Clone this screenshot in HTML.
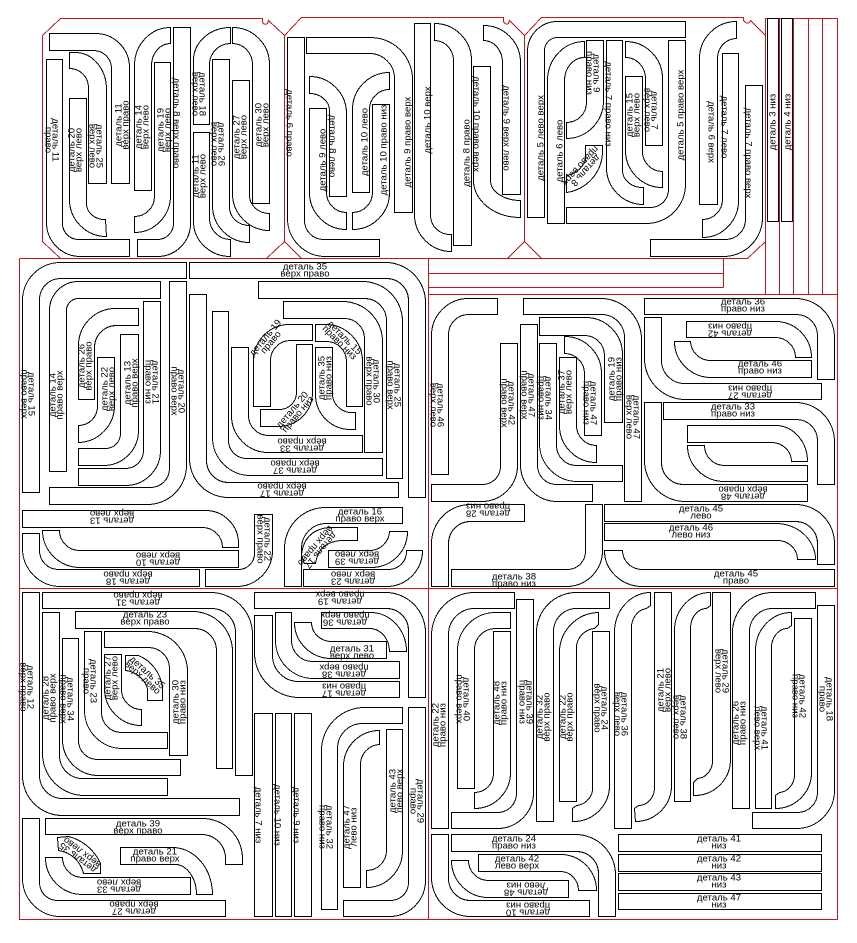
<!DOCTYPE html>
<html><head><meta charset="utf-8"><style>
html,body{margin:0;padding:0;background:#fff}
svg{display:block}
text{font-family:"Liberation Sans","DejaVu Sans",sans-serif;font-size:9.6px;text-anchor:middle;fill:#000}
</style></head><body>
<svg width="857" height="943" viewBox="0 0 857 943" xmlns="http://www.w3.org/2000/svg">
<rect width="857" height="943" fill="#fff"/>
<g transform="translate(.5,.5)" fill="none" shape-rendering="crispEdges">
<g stroke="#c8141f" stroke-width="1">
<path d="M42,35 L60,18 H262 V22 Q264,25 267,23 L268,20 L284,35 L301,17 H503 V21 Q505,25 508,23 L509,20 L524,35 L541,17 H743 V20 Q746,24 749,22 L750,20 L765,35"/>
<path d="M42,35 V241 L60,258 M284,35 V241 L266,258 M284,241 L301,258 M524,35 V241 L507,258 M524,241 L541,258 M765,18 V294 M765,241 L747,258"/>
<path d="M19,258 H747 M723,258 V287 M428,273 H723 M428,287 H723 M765,18 H837 M779,18 V294 M793,18 V294 M808,18 V294 M822,18 V294 M837,18 V919 M428,258 V919 M428,294 H837 M19,258 V919 H837 M19,588 H837"/>
</g>
<g stroke="#000" stroke-width="1">
<path d="M46,59 V222 A34,34 0 0 0 80,256 H129 V239 H78 A16,16 0 0 1 62,223 V59Z"/>
<path d="M69,98 H86 V203 A18,16 0 0 0 105,219 L106,236 A37,37 0 0 1 69,199 Z"/>
<path d="M69,52 H75 A31,37 0 0 1 106,89 V183 H88 V87 A19,19 0 0 0 69,68 Z"/>
<path d="M49,33 H95 A34,34 0 0 1 129,67 V183 H111 V68 A18,18 0 0 0 93,50 H49 Z"/>
<path d="M134,190 V65 A36,38 0 0 1 170,27 V43 A19,22 0 0 0 151,65 V190Z"/>
<path d="M154,62 H170 V195 A36,37 0 0 1 134,232 V216 A20,20 0 0 0 154,196 Z"/>
<path d="M173,27 H190 V223 A33,33 0 0 1 157,256 H137 V239 H157 A16,16 0 0 0 173,223Z"/>
<path d="M193,124 V60 A37,33 0 0 1 230,27 V43 A21,21 0 0 0 209,64 V124Z"/>
<path d="M193,132 H209 V218 A21,21 0 0 0 230,239 V256 A37,35 0 0 1 193,221 Z"/>
<path d="M212,59 H229 V207 A20,18 0 0 0 249,225 V242 A37,37 0 0 1 212,205 Z"/>
<path d="M232,80 H249 V195 A20,18 0 0 0 269,213 V230 A37,37 0 0 1 232,193Z"/>
<path d="M232,27 A37,37 0 0 1 269,64 V203 H252 V64 A20,21 0 0 0 232,43 Z"/>
<path d="M287,37 H304 V220 A19,19 0 0 0 323,239 H379 V256 H325 A38,38 0 0 1 287,218 Z"/>
<path d="M306,37 H370 A42,42 0 0 1 412,79 V212 H394 V78 A25,25 0 0 0 369,53 H306 Z"/>
<path d="M309,76 A37,37 0 0 1 346,113 V196 H329 V110 A20,17 0 0 0 309,93 Z"/>
<path d="M389,72 V89 A20,20 0 0 0 369,109 V192 H352 V109 A37,37 0 0 1 389,72Z"/>
<path d="M309,108 H326 V192 A20,20 0 0 0 346,212 V229 A37,37 0 0 1 309,192Z"/>
<path d="M372,104 H389 V192 A37,37 0 0 1 352,229 V212 A20,20 0 0 0 372,192Z"/>
<path d="M414,23 H430 V215 A20,19 0 0 0 451,234 V251 A37,37 0 0 1 414,214Z"/>
<path d="M434,23 A37,37 0 0 1 471,60 V245 H453 V60 A19,20 0 0 0 434,40 Z"/>
<path d="M473,66 H490 V180 A30,20 0 0 0 520,200 V217 A47,37 0 0 1 473,180 Z"/>
<path d="M483,25 A37,37 0 0 1 520,62 V194 H502 V62 A19,22 0 0 0 483,40 Z"/>
<path d="M527,217 V51 A30,30 0 0 1 557,21 H685 V37 H557 A13,13 0 0 0 544,50 V217Z"/>
<path d="M547,223 V80 A37,39 0 0 1 584,41 V57 A20,23 0 0 0 564,80 V223Z"/>
<path d="M586,40 H603 V100 A37,38 0 0 1 566,138 V122 A20,20 0 0 0 586,102Z"/>
<path d="M585,145 H602 V152 A42,42 0 0 1 566,192 V175 A26,26 0 0 0 585,160 Z"/>
<path d="M606,40 H622 V170 A20,17 0 0 0 643,187 V204 A37,37 0 0 1 606,167Z"/>
<path d="M625,76 H642 V150 A20,20 0 0 0 662,171 V187 A37,37 0 0 1 625,150 Z"/>
<path d="M625,41 A37,37 0 0 1 662,78 V145 H645 V78 A20,21 0 0 0 625,57 Z"/>
<path d="M668,40 H685 V184 A39,39 0 0 1 646,223 H566 V207 H650 A18,18 0 0 0 668,189 Z"/>
<path d="M699,204 V58 A37,37 0 0 1 736,21 V38 A19,20 0 0 0 717,58 V204Z"/>
<path d="M722,53 H738 V200 A36,37 0 0 1 702,237 V219 A20,20 0 0 0 722,199 Z"/>
<path d="M745,85 H762 V217 A39,39 0 0 1 723,256 H650 V239 H725 A20,20 0 0 0 745,219 Z"/>
<path d="M767,18 H778 V221 H767Z M781,18 H792 V221 H781Z"/>

<path d="M22,492 V300 A38,38 0 0 1 60,262 H186 V278 H60 A21,21 0 0 0 39,299 V492Z"/>
<path d="M49,471 V310 A29,29 0 0 1 78,281 H160 V298 H78 A12,12 0 0 0 66,310 V471Z"/>
<path d="M78,399 V345 A37,37 0 0 1 115,308 H138 V325 H116 A22,22 0 0 0 94,347 V399Z"/>
<path d="M97,357 H114 V405 A37,37 0 0 1 78,442 V425 A19,19 0 0 0 97,406Z"/>
<path d="M120,334 H138 V430 A35,35 0 0 1 103,465 H78 V448 H105 A15,15 0 0 0 120,433Z"/>
<path d="M143,301 H160 V450 A35,35 0 0 1 125,485 H78 V468 H125 A18,18 0 0 0 143,450Z"/>
<path d="M169,281 H186 V465 A39,39 0 0 1 147,504 H49 V487 H150 A19,19 0 0 0 169,468Z"/>
<path d="M189,262 H385 A40,40 0 0 1 425,302 V497 H408 V300 A22,22 0 0 0 386,278 H189Z"/>
<path d="M258,281 H362 A40,40 0 0 1 402,321 V478 H386 V320 A22,22 0 0 0 364,298 H258Z"/>
<path d="M283,301 H342 A40,40 0 0 1 382,341 V452 H364 V338 A20,20 0 0 0 344,318 H283 Z"/>
<path d="M189,294 H206 V460 A22,22 0 0 0 228,482 H398 V497 H228 A39,39 0 0 1 189,458 Z"/>
<path d="M212,311 H228 V440 A18,18 0 0 0 246,458 H382 V475 H250 A38,38 0 0 1 212,437Z"/>
<path d="M231,347 H248 V415 A20,20 0 0 0 268,435 H362 V452 H268 A37,37 0 0 1 231,415Z"/>
<path d="M253,406 V360 A36,36 0 0 1 289,324 H312 V340 H290 A20,20 0 0 0 270,360 V406Z"/>
<path d="M296,344 H312 V392 A34,34 0 0 1 278,426 H260 V409 H279 A17,17 0 0 0 296,392Z"/>
<path d="M315,324 H325 A37,37 0 0 1 362,361 V406 H346 V361 A20,20 0 0 0 326,341 H315 Z"/>
<path d="M315,347 H332 V393 A20,19 0 0 0 355,412 V429 H350 A35,35 0 0 1 315,394Z"/>
<path d="M22,510 H205 A33,33 0 0 1 238,543 V547 H222 A20,20 0 0 0 202,527 H22 Z"/>
<path d="M42,530 H59 A20,20 0 0 0 79,550 H238 V567 H80 A38,37 0 0 1 42,530 Z"/>
<path d="M22,533 H39 V550 A19,19 0 0 0 58,569 H199 V586 H60 A38,38 0 0 1 22,548Z"/>
<path d="M254,514 H272 V550 A36,36 0 0 1 236,586 H205 V569 H238 A16,16 0 0 0 254,553Z"/>
<path d="M402,507 H325 A41,41 0 0 0 284,548 V586 H301 V548 A25,25 0 0 1 326,523 H402Z"/>
<path d="M357,527 H328 Q303,530 301,555 L304,563 H315 Q318,542 340,540 H357Z"/>
<path d="M328,550 H370 A20,20 0 0 0 389,531 H407 A36,36 0 0 1 372,567 H328Z"/>
<path d="M303,569 H388 A18,18 0 0 0 406,550 H422 A36,36 0 0 1 386,586 H303Z"/>

<path d="M431,474 V335 A37,37 0 0 1 468,298 H497 V314 H468 A20,20 0 0 0 448,334 V474Z"/>
<path d="M500,343 H517 V465 A36,36 0 0 1 481,501 H431 V484 H482 A18,18 0 0 0 500,466Z"/>
<path d="M520,324 H537 V465 A19,19 0 0 0 556,484 H592 V501 H557 A37,37 0 0 1 520,464Z"/>
<path d="M539,343 H556 V445 A20,20 0 0 0 576,465 H622 V481 H577 A38,38 0 0 1 539,443Z"/>
<path d="M559,357 H576 V425 A20,20 0 0 0 596,445 V462 A37,37 0 0 1 559,425Z"/>
<path d="M564,336 A37,37 0 0 1 601,373 V435 H584 V373 A20,20 0 0 0 564,353Z"/>
<path d="M539,317 H585 A37,37 0 0 1 622,354 V422 H604 V355 A20,20 0 0 0 584,335 H539Z"/>
<path d="M523,298 H600 A41,41 0 0 1 641,339 V501 H624 V337 A23,23 0 0 0 601,314 H523Z"/>
<path d="M644,298 H795 A39,39 0 0 1 834,337 V379 H817 V335 A21,21 0 0 0 796,314 H644Z"/>
<path d="M686,321 H775 A36,36 0 0 1 811,357 H795 A20,20 0 0 0 775,337 H686Z"/>
<path d="M674,341 H690 A20,20 0 0 0 710,360 H811 V377 H711 A37,36 0 0 1 674,341Z"/>
<path d="M644,317 H661 V360 A23,23 0 0 0 684,383 H821 V399 H685 A41,41 0 0 1 644,358Z"/>
<path d="M663,402 H795 A39,39 0 0 1 834,441 V484 H817 V440 A21,21 0 0 0 796,419 H663Z"/>
<path d="M687,425 H775 A32,36 0 0 1 807,461 H791 A20,19 0 0 0 771,442 H687Z"/>
<path d="M687,445 H704 A20,20 0 0 0 724,465 H807 V481 H724 A37,36 0 0 1 687,445Z"/>
<path d="M644,402 H661 V462 A22,22 0 0 0 683,484 H807 V501 H685 A41,41 0 0 1 644,460Z"/>
<path d="M524,504 H470 A39,39 0 0 0 431,543 V586 H448 V543 A22,22 0 0 1 470,521 H524Z"/>
<path d="M585,504 H602 V550 A36,36 0 0 1 566,586 H451 V569 H567 A18,18 0 0 0 585,551Z"/>
<path d="M604,504 H795 A39,39 0 0 1 834,543 V564 H817 V543 A22,22 0 0 0 795,521 H604Z"/>
<path d="M604,523 H775 A40,36 0 0 1 815,559 H797 A20,19 0 0 0 777,540 H604Z"/>
<path d="M604,550 H622 A20,19 0 0 0 642,569 H834 V586 H642 A38,36 0 0 1 604,550Z"/>

<path d="M22,592 H39 V775 A23,23 0 0 0 62,798 H239 V815 H62 A40,40 0 0 1 22,775Z"/>
<path d="M42,592 H210 A42,42 0 0 1 252,634 V775 H235 V632 A24,24 0 0 0 211,608 H42Z"/>
<path d="M42,612 H59 V755 A23,23 0 0 0 82,778 H167 V795 H84 A42,42 0 0 1 42,753Z"/>
<path d="M75,611 H192 A40,40 0 0 1 232,651 V768 H216 V650 A22,22 0 0 0 194,628 H75Z"/>
<path d="M62,638 H78 V740 A19,19 0 0 0 97,759 H180 V775 H98 A36,36 0 0 1 62,739 Z"/>
<path d="M84,631 H101 V712 A20,20 0 0 0 121,732 H167 V748 H122 A38,38 0 0 1 84,710Z"/>
<path d="M104,631 H147 A40,40 0 0 1 187,671 V755 H169 V668 A21,21 0 0 0 148,647 H104Z"/>
<path d="M104,654 H121 V690 A20,20 0 0 0 141,709 V725 A37,37 0 0 1 104,688Z"/>
<path d="M125,655 H138 A38,40 0 0 1 162,687 V700 H147 V688 A26,26 0 0 0 125,670Z"/>
<path d="M254,592 H385 A40,40 0 0 1 425,632 V697 H408 V630 A22,22 0 0 0 386,608 H254Z"/>
<path d="M321,612 H370 A36,39 0 0 1 406,651 H389 A20,23 0 0 0 369,628 H321Z"/>
<path d="M294,622 H311 A20,19 0 0 0 331,641 H386 V658 H331 A37,36 0 0 1 294,622Z"/>
<path d="M275,612 H291 V640 A21,21 0 0 0 312,661 H399 V678 H313 A38,38 0 0 1 275,640 Z"/>
<path d="M254,615 H272 V655 A26,26 0 0 0 298,681 H399 V697 H299 A45,45 0 0 1 254,652Z"/>
<path d="M254,713 H272 V916 H254Z M275,713 H291 V916 H275Z M294,713 H311 V916 H294Z"/>
<path d="M321,909 V750 A43,43 0 0 1 364,707 H402 V723 H362 A25,25 0 0 0 337,748 V909Z"/>
<path d="M343,887 V765 A36,36 0 0 1 379,730 V744 A20,20 0 0 0 360,765 V887Z"/>
<path d="M386,729 H402 V850 A36,37 0 0 1 366,887 V870 A20,20 0 0 0 386,850 Z"/>
<path d="M408,707 H425 V880 A36,36 0 0 1 389,916 H343 V900 H390 A18,18 0 0 0 408,882Z"/>
<path d="M45,818 H202 A40,40 0 0 1 242,858 V864 H225 V858 A24,24 0 0 0 201,834 H45Z"/>
<path d="M22,818 H39 V882 A18,18 0 0 0 57,900 H225 V916 H60 A38,38 0 0 1 22,878Z"/>
<path d="M120,847 H172 A40,47 0 0 1 212,894 H196 A22,30 0 0 0 172,864 H120Z"/>
<path d="M45,857 H62 A20,20 0 0 0 82,877 H190 V894 H82 A37,37 0 0 1 45,857Z"/>
<path d="M57,837 L68,836 A48,48 0 0 1 100,863 V873 H83 A30,30 0 0 0 58,850Z"/>

<path d="M431,828 V635 A43,43 0 0 1 474,592 H514 V608 H474 A26,26 0 0 0 448,634 V828Z"/>
<path d="M457,788 V650 A38,38 0 0 1 495,612 H510 V628 H495 A21,21 0 0 0 474,649 V788Z"/>
<path d="M493,631 H510 V772 A36,36 0 0 1 474,808 V792 A19,19 0 0 0 493,773 Z"/>
<path d="M516,599 H533 V792 A36,36 0 0 1 497,828 H451 V812 H497 A19,19 0 0 0 516,793Z"/>
<path d="M536,821 V632 A40,40 0 0 1 576,592 H609 V608 H576 A23,23 0 0 0 553,631 V821Z"/>
<path d="M559,801 V652 A40,40 0 0 1 598,612 V624 L594,628 A20,20 0 0 0 576,650 V801Z"/>
<path d="M592,631 H609 V785 A36,36 0 0 1 573,821 H572 V808 L576,805 A18,18 0 0 0 592,790Z"/>
<path d="M614,828 V632 A36,40 0 0 1 650,592 V605 L646,608 A17,20 0 0 0 631,625 V828Z"/>
<path d="M654,592 H671 V785 A36,36 0 0 1 635,821 L634,808 L638,805 A16,18 0 0 0 654,788Z"/>
<path d="M674,801 V630 A36,38 0 0 1 710,592 V605 L706,608 A16,20 0 0 0 690,627 V801Z"/>
<path d="M712,592 H730 V760 A36,36 0 0 1 694,795 H693 V782 L697,778 A16,18 0 0 0 712,762Z"/>
<path d="M732,808 V632 A40,40 0 0 1 772,592 H815 V608 H772 A23,23 0 0 0 749,631 V808Z"/>
<path d="M755,808 V650 A36,38 0 0 1 791,612 V625 L787,628 A16,20 0 0 0 771,645 V808Z"/>
<path d="M794,618 H811 V772 A36,36 0 0 1 775,808 V795 L779,792 A16,18 0 0 0 794,775Z"/>
<path d="M817,605 H834 V790 A38,38 0 0 1 796,828 H752 V812 H797 A20,20 0 0 0 817,792Z"/>
<path d="M431,834 H448 V878 A22,22 0 0 0 470,900 H589 V916 H470 A39,39 0 0 1 431,877Z"/>
<path d="M451,860 H468 A20,20 0 0 0 488,880 H568 V897 H488 A37,37 0 0 1 451,860Z"/>
<path d="M478,854 H560 A36,36 0 0 1 596,890 H578 A18,19 0 0 0 560,871 H478Z"/>
<path d="M451,834 H575 A40,40 0 0 1 615,874 V916 H598 V873 A22,22 0 0 0 576,851 H451Z"/>
<path d="M618,834 H821 V851 H618Z M618,854 H821 V871 H618Z M618,873 H821 V890 H618Z M618,893 H821 V909 H618Z"/>
</g>
</g>
<g>
<text transform="translate(52,140) rotate(90)"><tspan x="0" y="-.5">деталь 11</tspan><tspan x="0" y="6.5">право</tspan></text>
<text transform="translate(75,150) rotate(-90)"><tspan x="0" y="-.5">деталь 20</tspan><tspan x="0" y="6.5">верх лево</tspan></text>
<text transform="translate(96,146) rotate(90)"><tspan x="0" y="-.5">деталь 25</tspan><tspan x="0" y="6.5">верх лево</tspan></text>
<text transform="translate(122,125) rotate(-90)"><tspan x="0" y="-.5">деталь 11</tspan><tspan x="0" y="6.5">верх право</tspan></text>
<text transform="translate(142,127) rotate(-90)"><tspan x="0" y="-.5">деталь 14</tspan><tspan x="0" y="6.5">верх лево</tspan></text>
<text transform="translate(164,130) rotate(-90)"><tspan x="0" y="-.5">деталь 19</tspan><tspan x="0" y="6.5">верх лево</tspan></text>
<text transform="translate(177,123) rotate(90)" y="3.5">деталь 8 верх право</text>
<text transform="translate(199,94) rotate(90)"><tspan x="0" y="-.5">деталь 18</tspan><tspan x="0" y="6.5">верх лево</tspan></text>
<text transform="translate(199,176) rotate(-90)"><tspan x="0" y="-.5">деталь 11</tspan><tspan x="0" y="6.5">верх лево</tspan></text>
<text transform="translate(218,144) rotate(90)"><tspan x="0" y="-.5">деталь 26</tspan><tspan x="0" y="6.5">верх лево</tspan></text>
<text transform="translate(240,137) rotate(-90)"><tspan x="0" y="-.5">деталь 27</tspan><tspan x="0" y="6.5">верх лево</tspan></text>
<text transform="translate(262,125) rotate(-90)"><tspan x="0" y="-.5">деталь 30</tspan><tspan x="0" y="6.5">верх лево</tspan></text>
<text transform="translate(290,123) rotate(90)" y="3.5">деталь 6 право</text>
<text transform="translate(322,160) rotate(-90)" y="3.5">деталь 9 лево</text>
<text transform="translate(333,146) rotate(90)" y="3.5">деталь 8 лево</text>
<text transform="translate(364,142) rotate(-90)" y="3.5">деталь 10 лево</text>
<text transform="translate(383,150) rotate(-90)" y="3.5">деталь 10 право низ</text>
<text transform="translate(407,142) rotate(-90)" y="3.5">деталь 9 право верх</text>
<text transform="translate(427,120) rotate(-90)" y="3.5">деталь 10 верх</text>
<text transform="translate(466,153) rotate(-90)" y="3.5">деталь 8 право</text>
<text transform="translate(477,124) rotate(90)" y="3.5">деталь 10 право верх</text>
<text transform="translate(507,128) rotate(90)" y="3.5">деталь 9 верх лево</text>
<text transform="translate(540,138) rotate(-90)" y="3.5">деталь 5 лево верх</text>
<text transform="translate(559,151) rotate(-90)" y="3.5">деталь 6 лево</text>
<text transform="translate(593,73) rotate(90)"><tspan x="0" y="-.5">деталь 9</tspan><tspan x="0" y="6.5">право низ</tspan></text>
<text transform="translate(583,168) rotate(132)"><tspan x="0" y="-.5">деталь 8</tspan><tspan x="0" y="6.5">право верх</tspan></text>
<text transform="translate(609,104) rotate(90)" y="3.5">деталь 7 право низ</text>
<text transform="translate(633,115) rotate(-90)"><tspan x="0" y="-.5">деталь 15</tspan><tspan x="0" y="6.5">верх лево</tspan></text>
<text transform="translate(651,110) rotate(90)"><tspan x="0" y="-.5">деталь 7</tspan><tspan x="0" y="6.5">верх лево</tspan></text>
<text transform="translate(680,115) rotate(-90)" y="3.5">деталь 5 право верх</text>
<text transform="translate(712,132) rotate(90)" y="3.5">деталь 6 верх</text>
<text transform="translate(725,127) rotate(90)" y="3.5">деталь 7 лево</text>
<text transform="translate(749,153) rotate(90)" y="3.5">деталь 7 право верх</text>
<text transform="translate(772,122) rotate(-90)" y="3.5">деталь 3 низ</text>
<text transform="translate(787,122) rotate(-90)" y="3.5">деталь 4 низ</text>

<text transform="translate(28,394) rotate(90)"><tspan x="0" y="-.5">деталь 15</tspan><tspan x="0" y="6.5">право верх</tspan></text>
<text transform="translate(56,395) rotate(-90)"><tspan x="0" y="-.5">деталь 14</tspan><tspan x="0" y="6.5">право верх</tspan></text>
<text transform="translate(85,366) rotate(-90)"><tspan x="0" y="-.5">деталь 26</tspan><tspan x="0" y="6.5">верх право</tspan></text>
<text transform="translate(108,389) rotate(-90)"><tspan x="0" y="-.5">деталь 22</tspan><tspan x="0" y="6.5">верх лево</tspan></text>
<text transform="translate(131,383) rotate(-90)"><tspan x="0" y="-.5">деталь 13</tspan><tspan x="0" y="6.5">право верх</tspan></text>
<text transform="translate(152,382) rotate(90)"><tspan x="0" y="-.5">деталь 21</tspan><tspan x="0" y="6.5">право низ</tspan></text>
<text transform="translate(178,391) rotate(90)"><tspan x="0" y="-.5">деталь 20</tspan><tspan x="0" y="6.5">право верх</tspan></text>
<text transform="translate(305,270)"><tspan x="0" y="-.5">деталь 35</tspan><tspan x="0" y="6.5">верх право</tspan></text>
<text transform="translate(394,385) rotate(90)"><tspan x="0" y="-.5">деталь 25</tspan><tspan x="0" y="6.5">право верх</tspan></text>
<text transform="translate(373,381) rotate(90)"><tspan x="0" y="-.5">деталь 30</tspan><tspan x="0" y="6.5">верх право</tspan></text>
<text transform="translate(325,378) rotate(-90)"><tspan x="0" y="-.5">деталь 35</tspan><tspan x="0" y="6.5">право низ</tspan></text>
<text transform="translate(268,340) rotate(-50)"><tspan x="0" y="-.5">деталь 19</tspan><tspan x="0" y="6.5">право</tspan></text>
<text transform="translate(342,340) rotate(45)"><tspan x="0" y="-.5">деталь 15</tspan><tspan x="0" y="6.5">право низ</tspan></text>
<text transform="translate(295,412) rotate(-50)"><tspan x="0" y="-.5">деталь 20</tspan><tspan x="0" y="6.5">право низ</tspan></text>
<text transform="translate(302,445) rotate(180)"><tspan x="0" y="-.5">деталь 33</tspan><tspan x="0" y="6.5">верх право</tspan></text>
<text transform="translate(295,467) rotate(180)"><tspan x="0" y="-.5">деталь 37</tspan><tspan x="0" y="6.5">верх право</tspan></text>
<text transform="translate(282,490) rotate(180)"><tspan x="0" y="-.5">деталь 17</tspan><tspan x="0" y="6.5">верх право</tspan></text>
<text transform="translate(112,517) rotate(180)"><tspan x="0" y="-.5">деталь 13</tspan><tspan x="0" y="6.5">верх лево</tspan></text>
<text transform="translate(158,559) rotate(180)"><tspan x="0" y="-.5">деталь 10</tspan><tspan x="0" y="6.5">верх лево</tspan></text>
<text transform="translate(128,578) rotate(180)"><tspan x="0" y="-.5">деталь 18</tspan><tspan x="0" y="6.5">верх право</tspan></text>
<text transform="translate(264,539) rotate(90)"><tspan x="0" y="-.5">деталь 22</tspan><tspan x="0" y="6.5">верх право</tspan></text>
<text transform="translate(360,515)"><tspan x="0" y="-.5">деталь 16</tspan><tspan x="0" y="6.5">право верх</tspan></text>
<text transform="translate(318,548) rotate(130)"><tspan x="0" y="-.5">деталь 17</tspan><tspan x="0" y="6.5">верх право</tspan></text>
<text transform="translate(357,558) rotate(180)"><tspan x="0" y="-.5">деталь 39</tspan><tspan x="0" y="6.5">верх лево</tspan></text>
<text transform="translate(353,578) rotate(180)"><tspan x="0" y="-.5">деталь 23</tspan><tspan x="0" y="6.5">верх лево</tspan></text>

<text transform="translate(437,405) rotate(90)"><tspan x="0" y="-.5">деталь 46</tspan><tspan x="0" y="6.5">верх лево</tspan></text>
<text transform="translate(508,403) rotate(90)"><tspan x="0" y="-.5">деталь 42</tspan><tspan x="0" y="6.5">право верх</tspan></text>
<text transform="translate(528,395) rotate(90)"><tspan x="0" y="-.5">деталь 47</tspan><tspan x="0" y="6.5">право верх</tspan></text>
<text transform="translate(545,398) rotate(90)"><tspan x="0" y="-.5">деталь 34</tspan><tspan x="0" y="6.5">право низ</tspan></text>
<text transform="translate(565,392) rotate(-90)"><tspan x="0" y="-.5">деталь 37</tspan><tspan x="0" y="6.5">верх лево</tspan></text>
<text transform="translate(590,403) rotate(90)"><tspan x="0" y="-.5">деталь 47</tspan><tspan x="0" y="6.5">право низ</tspan></text>
<text transform="translate(615,379) rotate(-90)"><tspan x="0" y="-.5">деталь 19</tspan><tspan x="0" y="6.5">право низ</tspan></text>
<text transform="translate(633,417) rotate(90)"><tspan x="0" y="-.5">деталь 47</tspan><tspan x="0" y="6.5">верх лево</tspan></text>
<text transform="translate(743,305)"><tspan x="0" y="-.5">деталь 36</tspan><tspan x="0" y="6.5">право низ</tspan></text>
<text transform="translate(730,330) rotate(180)"><tspan x="0" y="-.5">деталь 42</tspan><tspan x="0" y="6.5">право низ</tspan></text>
<text transform="translate(760,367)"><tspan x="0" y="-.5">деталь 46</tspan><tspan x="0" y="6.5">право низ</tspan></text>
<text transform="translate(750,392) rotate(180)"><tspan x="0" y="-.5">деталь 27</tspan><tspan x="0" y="6.5">право низ</tspan></text>
<text transform="translate(733,410)"><tspan x="0" y="-.5">деталь 33</tspan><tspan x="0" y="6.5">право низ</tspan></text>
<text transform="translate(743,493) rotate(180)"><tspan x="0" y="-.5">деталь 48</tspan><tspan x="0" y="6.5">верх право</tspan></text>
<text transform="translate(488,510) rotate(180)"><tspan x="0" y="-.5">деталь 28</tspan><tspan x="0" y="6.5">право низ</tspan></text>
<text transform="translate(514,580)"><tspan x="0" y="-.5">деталь 38</tspan><tspan x="0" y="6.5">право низ</tspan></text>
<text transform="translate(701,512)"><tspan x="0" y="-.5">деталь 45</tspan><tspan x="0" y="6.5">лево</tspan></text>
<text transform="translate(691,531)"><tspan x="0" y="-.5">деталь 46</tspan><tspan x="0" y="6.5">лево низ</tspan></text>
<text transform="translate(736,577)"><tspan x="0" y="-.5">деталь 45</tspan><tspan x="0" y="6.5">право</tspan></text>

<text transform="translate(138,599) rotate(180)"><tspan x="0" y="-.5">деталь 31</tspan><tspan x="0" y="6.5">верх право</tspan></text>
<text transform="translate(145,618)"><tspan x="0" y="-.5">деталь 23</tspan><tspan x="0" y="6.5">верх право</tspan></text>
<text transform="translate(27,687) rotate(90)"><tspan x="0" y="-.5">деталь 12</tspan><tspan x="0" y="6.5">верх право</tspan></text>
<text transform="translate(49,698) rotate(-90)"><tspan x="0" y="-.5">деталь 28</tspan><tspan x="0" y="6.5">право верх</tspan></text>
<text transform="translate(67,699) rotate(90)"><tspan x="0" y="-.5">деталь 34</tspan><tspan x="0" y="6.5">право верх</tspan></text>
<text transform="translate(90,681) rotate(90)"><tspan x="0" y="-.5">деталь 23</tspan><tspan x="0" y="6.5">право</tspan></text>
<text transform="translate(111,678) rotate(-90)"><tspan x="0" y="-.5">деталь 27</tspan><tspan x="0" y="6.5">верх лево</tspan></text>
<text transform="translate(145,675) rotate(42)"><tspan x="0" y="-.5">деталь 35</tspan><tspan x="0" y="6.5">верх лево</tspan></text>
<text transform="translate(179,702) rotate(-90)"><tspan x="0" y="-.5">деталь 30</tspan><tspan x="0" y="6.5">право низ</tspan></text>
<text transform="translate(340,598) rotate(180)"><tspan x="0" y="-.5">деталь 19</tspan><tspan x="0" y="6.5">право верх</tspan></text>
<text transform="translate(345,619) rotate(180)"><tspan x="0" y="-.5">деталь 36</tspan><tspan x="0" y="6.5">право верх</tspan></text>
<text transform="translate(352,652)"><tspan x="0" y="-.5">деталь 31</tspan><tspan x="0" y="6.5">верх лево</tspan></text>
<text transform="translate(344,671) rotate(180)"><tspan x="0" y="-.5">деталь 38</tspan><tspan x="0" y="6.5">право верх</tspan></text>
<text transform="translate(344,690) rotate(180)"><tspan x="0" y="-.5">деталь 17</tspan><tspan x="0" y="6.5">право низ</tspan></text>
<text transform="translate(259,815) rotate(90)" y="3.5">деталь 7 низ</text>
<text transform="translate(278,815) rotate(90)" y="3.5">деталь 10 низ</text>
<text transform="translate(297,815) rotate(90)" y="3.5">деталь 9 низ</text>
<text transform="translate(326,827) rotate(90)"><tspan x="0" y="-.5">деталь 32</tspan><tspan x="0" y="6.5">право низ</tspan></text>
<text transform="translate(350,827) rotate(-90)"><tspan x="0" y="-.5">деталь 47</tspan><tspan x="0" y="6.5">лево низ</tspan></text>
<text transform="translate(396,791) rotate(-90)"><tspan x="0" y="-.5">деталь 43</tspan><tspan x="0" y="6.5">лево верх</tspan></text>
<text transform="translate(417,801) rotate(90)"><tspan x="0" y="-.5">деталь 29</tspan><tspan x="0" y="6.5">право</tspan></text>
<text transform="translate(138,827)"><tspan x="0" y="-.5">деталь 39</tspan><tspan x="0" y="6.5">верх право</tspan></text>
<text transform="translate(155,855)"><tspan x="0" y="-.5">деталь 21</tspan><tspan x="0" y="6.5">право верх</tspan></text>
<text transform="translate(119,886) rotate(180)"><tspan x="0" y="-.5">деталь 33</tspan><tspan x="0" y="6.5">верх лево</tspan></text>
<text transform="translate(134,908) rotate(180)"><tspan x="0" y="-.5">деталь 27</tspan><tspan x="0" y="6.5">верх право</tspan></text>
<text transform="translate(80,855) rotate(217)"><tspan x="0" y="-.5">деталь 35</tspan><tspan x="0" y="6.5">верх лево</tspan></text>

<text transform="translate(439,725) rotate(-90)"><tspan x="0" y="-.5">деталь 22</tspan><tspan x="0" y="6.5">право низ</tspan></text>
<text transform="translate(463,699) rotate(90)"><tspan x="0" y="-.5">деталь 40</tspan><tspan x="0" y="6.5">право верх</tspan></text>
<text transform="translate(500,703) rotate(-90)"><tspan x="0" y="-.5">деталь 48</tspan><tspan x="0" y="6.5">право низ</tspan></text>
<text transform="translate(526,702) rotate(90)"><tspan x="0" y="-.5">деталь 39</tspan><tspan x="0" y="6.5">право низ</tspan></text>
<text transform="translate(543,717) rotate(-90)"><tspan x="0" y="-.5">деталь 32</tspan><tspan x="0" y="6.5">верх право</tspan></text>
<text transform="translate(566,717) rotate(-90)"><tspan x="0" y="-.5">деталь 22</tspan><tspan x="0" y="6.5">верх право</tspan></text>
<text transform="translate(601,708) rotate(90)"><tspan x="0" y="-.5">деталь 24</tspan><tspan x="0" y="6.5">верх право</tspan></text>
<text transform="translate(621,714) rotate(90)"><tspan x="0" y="-.5">деталь 36</tspan><tspan x="0" y="6.5">верх лево</tspan></text>
<text transform="translate(664,690) rotate(-90)"><tspan x="0" y="-.5">деталь 21</tspan><tspan x="0" y="6.5">верх лево</tspan></text>
<text transform="translate(680,717) rotate(90)"><tspan x="0" y="-.5">деталь 38</tspan><tspan x="0" y="6.5">верх лево</tspan></text>
<text transform="translate(722,671) rotate(90)"><tspan x="0" y="-.5">деталь 29</tspan><tspan x="0" y="6.5">верх лево</tspan></text>
<text transform="translate(739,723) rotate(-90)"><tspan x="0" y="-.5">деталь 26</tspan><tspan x="0" y="6.5">право низ</tspan></text>
<text transform="translate(761,728) rotate(90)"><tspan x="0" y="-.5">деталь 41</tspan><tspan x="0" y="6.5">лево верх</tspan></text>
<text transform="translate(799,696) rotate(90)"><tspan x="0" y="-.5">деталь 42</tspan><tspan x="0" y="6.5">право низ</tspan></text>
<text transform="translate(826,699) rotate(90)"><tspan x="0" y="-.5">деталь 18</tspan><tspan x="0" y="6.5">право</tspan></text>
<text transform="translate(514,842)"><tspan x="0" y="-.5">деталь 24</tspan><tspan x="0" y="6.5">право низ</tspan></text>
<text transform="translate(517,862)"><tspan x="0" y="-.5">деталь 42</tspan><tspan x="0" y="6.5">лево верх</tspan></text>
<text transform="translate(526,889) rotate(180)"><tspan x="0" y="-.5">деталь 48</tspan><tspan x="0" y="6.5">лево низ</tspan></text>
<text transform="translate(528,909) rotate(180)"><tspan x="0" y="-.5">деталь 10</tspan><tspan x="0" y="6.5">право низ</tspan></text>
<text transform="translate(719,842)"><tspan x="0" y="-.5">деталь 41</tspan><tspan x="0" y="6.5">низ</tspan></text>
<text transform="translate(719,862)"><tspan x="0" y="-.5">деталь 42</tspan><tspan x="0" y="6.5">низ</tspan></text>
<text transform="translate(719,881)"><tspan x="0" y="-.5">деталь 43</tspan><tspan x="0" y="6.5">низ</tspan></text>
<text transform="translate(719,901)"><tspan x="0" y="-.5">деталь 47</tspan><tspan x="0" y="6.5">низ</tspan></text>
</g>
</svg>
</body></html>
